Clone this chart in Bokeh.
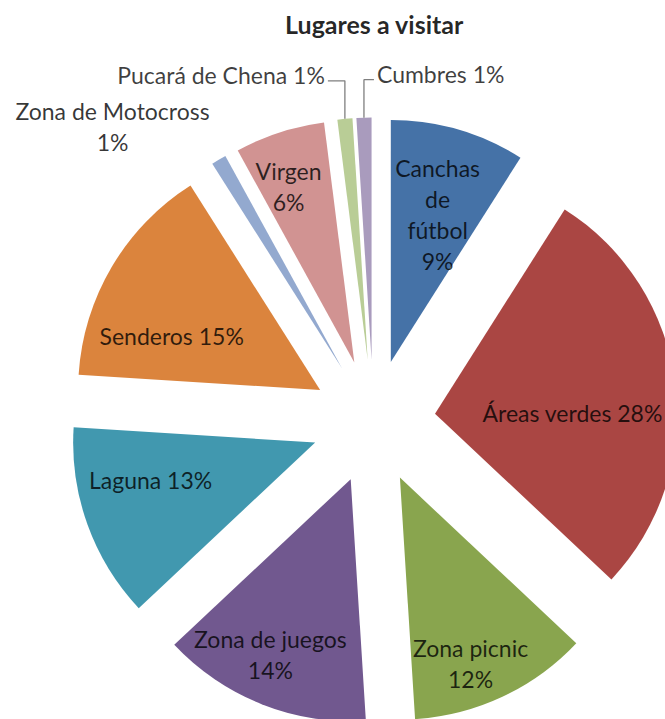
import numpy as np
from bokeh.plotting import figure
from bokeh.models import Range1d, ColumnDataSource
from bokeh.core.properties import value
from bokeh.embed import file_html
from bokeh.resources import INLINE

# ---------------- data ----------------
TITLE = "Lugares a visitar"
categories = ["Canchas de fútbol", "Áreas verdes", "Zona picnic", "Zona de juegos",
              "Laguna", "Senderos", "Zona de Motocross", "Virgen",
              "Pucará de Chena", "Cumbres"]
percents = [9, 28, 12, 14, 13, 15, 1, 6, 1, 1]
label_texts = ["Canchas\nde\nfútbol\n9%", "Áreas verdes 28%", "Zona picnic\n12%",
               "Zona de juegos\n14%", "Laguna 13%", "Senderos 15%",
               "Zona de Motocross\n1%", "Virgen\n6%", "Pucará de Chena 1%",
               "Cumbres 1%"]
colors = ["#4572A7", "#AA4643", "#89A54E", "#71588F", "#4198AF", "#DB843D",
          "#93A9CF", "#D19392", "#B9CD96", "#A99BBD"]

# ---------------- layout / style ----------------
W, H = 665, 719
CX, CY = 373.0, -421.0
R = 242.0
EXPLODE = 62.0
FONT = "Lato"
FS = "23px"
LINE_H = 1.1
# label placement: angle shift (deg) and radius fraction from slice apex
label_dtheta = [1.4, 6.9, 4.4, 3.0, 6.8, -10.8, -12.9, -2.5]
label_rfrac = [0.64, 0.569, 0.822, 0.797, 0.698, 0.652, 1.377, 0.776]
LEADER_RISE = 38.0

vals = np.array(percents, dtype=float)
frac = vals / vals.sum()
theta_end = np.cumsum(frac) * 2 * np.pi
theta_start = theta_end - frac * 2 * np.pi
theta_mid = (theta_start + theta_end) / 2

ax = CX + EXPLODE * np.sin(theta_mid)
ay = CY + EXPLODE * np.cos(theta_mid)

src = ColumnDataSource(dict(
    x=ax, y=ay,
    sa=np.pi / 2 - theta_end, ea=np.pi / 2 - theta_start,
    color=colors, cat=categories,
))

p = figure(width=W, height=H, x_range=Range1d(0, W), y_range=Range1d(-H, 0),
           output_backend="svg", toolbar_location=None, min_border=0,
           x_axis_location=None, y_axis_location=None)
p.xgrid.visible = False
p.ygrid.visible = False
p.outline_line_color = None
p.background_fill_color = "white"
p.border_fill_color = "white"

p.wedge(x="x", y="y", radius=R, start_angle="sa", end_angle="ea",
        direction="anticlock", fill_color="color", line_color=None, source=src)

# inside / free labels
n_in = len(label_rfrac)
lx, ly, lt = [], [], []
for i in range(n_in):
    th = theta_mid[i] + np.radians(label_dtheta[i])
    r = label_rfrac[i] * R
    lx.append(ax[i] + r * np.sin(th))
    ly.append(ay[i] + r * np.cos(th))
    lt.append(label_texts[i])
p.text(x=lx, y=ly, text=lt, text_align="center", text_baseline="middle",
       text_font=value(FONT), text_font_size=FS, text_color="black", text_alpha=0.78,
       text_line_height=LINE_H)

# leader-line labels (Pucará, Cumbres)
for i, side in ((8, -1), (9, 1)):
    ox = ax[i] + R * np.sin(theta_mid[i])
    oy = ay[i] + R * np.cos(theta_mid[i])
    ey = oy + LEADER_RISE
    hl = 17.0 if side < 0 else 10.0
    p.line([ox, ox, ox + side * hl], [oy, ey, ey], line_color="#7f7f7f", line_width=1.3)
    p.text(x=[ox + side * (hl + 3)], y=[ey + 6], text=[label_texts[i]],
           text_align="right" if side < 0 else "left", text_baseline="middle",
           text_font=value(FONT), text_font_size=FS, text_color="black", text_alpha=0.75)

# title
p.text(x=[CX + 1], y=[-23], text=[TITLE], text_align="center", text_baseline="middle",
       text_font=value(FONT), text_font_size="25px", text_font_style="bold",
       text_color="black", text_alpha=0.85)

open("out.html", "w").write(file_html(p, INLINE))
